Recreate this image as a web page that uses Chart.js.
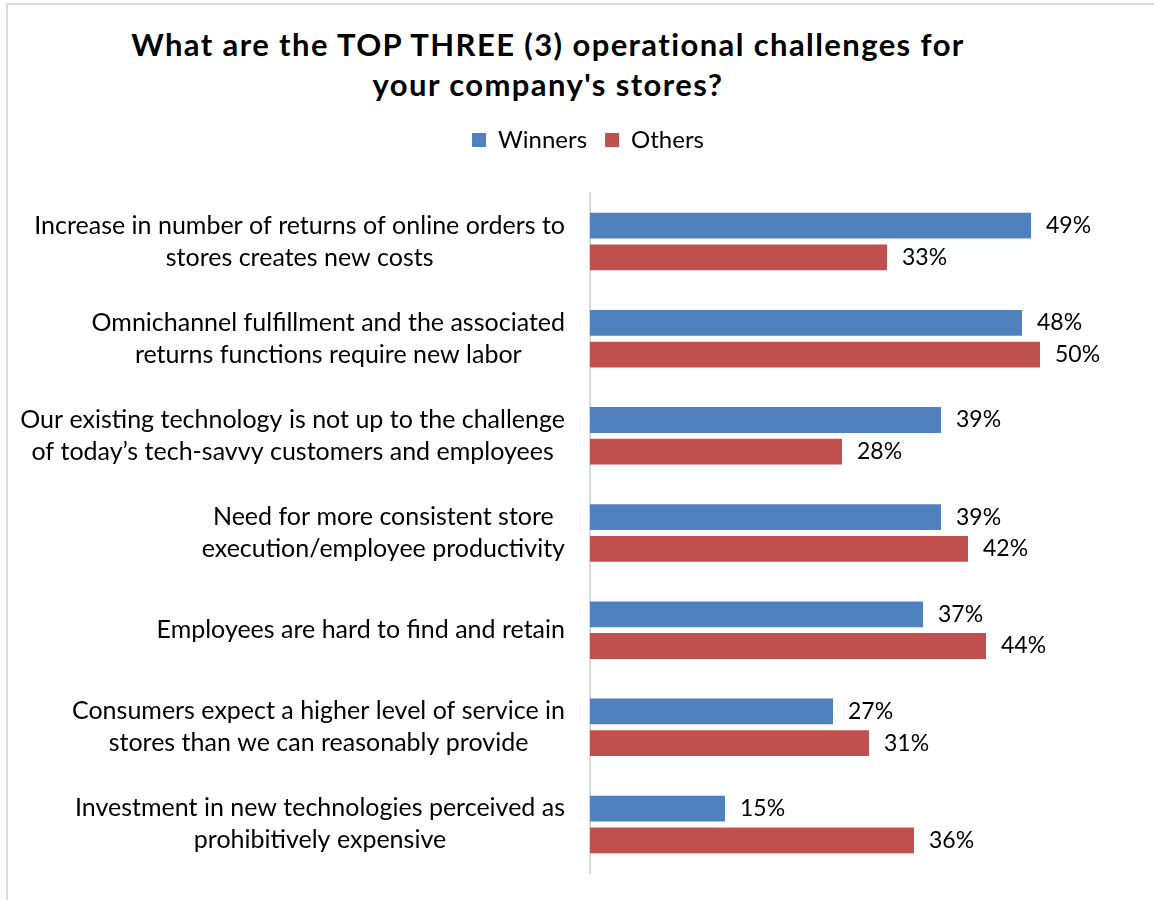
<!DOCTYPE html>
<html>
<head>
<meta charset="utf-8">
<script src="https://cdn.jsdelivr.net/npm/chart.js@4"></script>
<style>
  body { margin: 0; background: #fff; overflow: hidden; }
  #frame {
    position: absolute; left: 6px; top: 3px; width: 1200px; height: 1000px;
    border-left: 2px solid #d9d9d9; border-top: 2px solid #d9d9d9;
  }
  #title {
    position: absolute; left: 0; width: 1096px; top: 24px;
    text-align: center; font-family: Lato, sans-serif; font-weight: 700;
    font-size: 31px; letter-spacing: 1.4px; line-height: 40px; color: #000;
  }
  #wrap { position: absolute; left: 0; top: 110px; width: 1154px; height: 790px; }
</style>
</head>
<body>
<div id="frame"></div>
<div id="title">What are the TOP THREE (3) operational challenges for<br>your company's stores?</div>
<div id="wrap"><canvas id="chart" width="1154" height="790"></canvas></div>
<script>
const categories = [
  ["Increase in number of returns of online orders to", "stores creates new costs"],
  ["Omnichannel fulfillment and the associated", "returns functions require new labor"],
  ["Our existing technology is not up to the challenge", "of today\u2019s tech-savvy customers and employees"],
  ["Need for more consistent store ", "execution/employee productivity"],
  ["Employees are hard to find and retain"],
  ["Consumers expect a higher level of service in", "stores than we can reasonably provide"],
  ["Investment in new technologies perceived as", "prohibitively expensive"]
];
const winners = [49, 48, 39, 39, 37, 27, 15];
const others = [33, 50, 28, 42, 44, 31, 36];

const FONT = "Lato, sans-serif";

// category labels: right-aligned blocks, lines centered inside each block
const labelPlugin = {
  id: "catLabels",
  afterDraw(chart) {
    const ctx = chart.ctx;
    const y = chart.scales.y;
    const right = chart.chartArea.left - 25;
    ctx.save();
    ctx.font = "25px " + FONT;
    ctx.fillStyle = "#000";
    ctx.textAlign = "center";
    ctx.textBaseline = "middle";
    categories.forEach((lines, i) => {
      const widest = Math.max(...lines.map(l => ctx.measureText(l.trimEnd()).width));
      const cx = right - widest / 2;
      const cy = y.getPixelForValue(i);
      const lh = 32;
      lines.forEach((l, j) => {
        ctx.fillText(l.trimEnd(), cx, cy + (j - (lines.length - 1) / 2) * lh);
      });
    });
    ctx.restore();
  }
};

const valuePlugin = {
  id: "values",
  afterDatasetsDraw(chart) {
    const ctx = chart.ctx;
    ctx.save();
    ctx.font = "23px " + FONT;
    ctx.fillStyle = "#000";
    ctx.textAlign = "left";
    ctx.textBaseline = "middle";
    chart.data.datasets.forEach((ds, di) => {
      chart.getDatasetMeta(di).data.forEach((bar, i) => {
        ctx.fillText(ds.data[i] + "%", bar.x + 15, bar.y);
      });
    });
    ctx.restore();
  }
};

// extra room under the legend, and nudge it right
const legendGap = {
  id: "legendGap",
  beforeInit(chart) {
    const fit = chart.legend.fit;
    chart.legend.fit = function () {
      fit.bind(chart.legend)();
      this.height += 31;
    };
  },
  afterLayout(chart) {
    chart.legend.left += 46;
  }
};

new Chart(document.getElementById("chart"), {
  type: "bar",
  data: {
    labels: categories,
    datasets: [
      { label: "Winners", data: winners, backgroundColor: "#4f81bd" },
      { label: "Others", data: others, backgroundColor: "#c0504d" }
    ]
  },
  options: {
    indexAxis: "y",
    responsive: false,
    animation: false,
    devicePixelRatio: 1,
    categoryPercentage: 0.653,
    barPercentage: 0.8125,
    layout: { padding: { top: 0, right: 24, bottom: 27, left: 0 } },
    scales: {
      x: { display: false, min: 0, max: 60 },
      y: {
        grid: { display: false, drawTicks: false },
        border: { display: true, color: "#d9d9d9", width: 2 },
        ticks: { display: false },
        afterFit(scale) { scale.width = 590; }
      }
    },
    plugins: {
      legend: {
        position: "top",
        labels: {
          boxWidth: 14, boxHeight: 14, color: "#000",
          font: { family: FONT, size: 24 },
          padding: 18
        }
      },
      tooltip: { enabled: false }
    }
  },
  plugins: [labelPlugin, valuePlugin, legendGap]
});
</script>
</body>
</html>
